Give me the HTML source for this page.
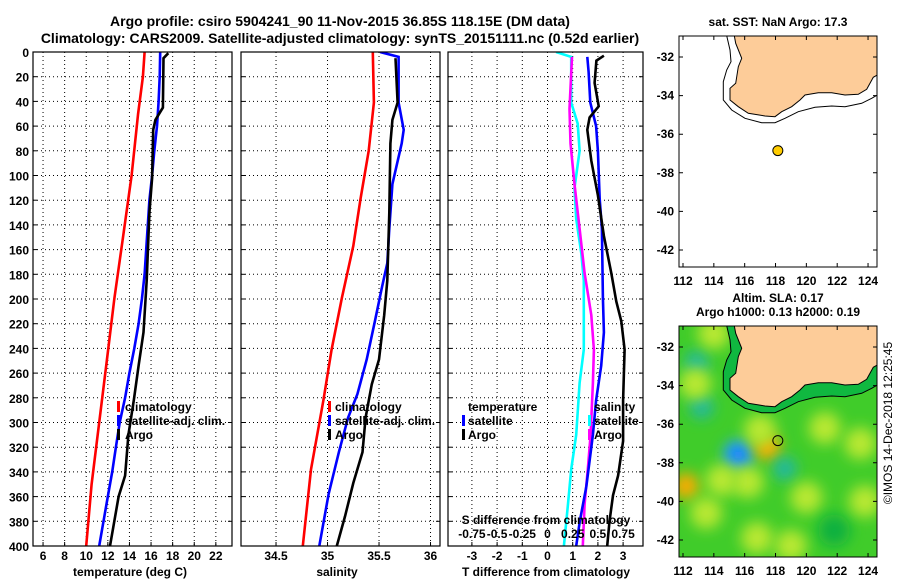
<!DOCTYPE html>
<html><head><meta charset="utf-8"><style>
html,body{margin:0;padding:0;background:#fff;}
svg{display:block;font-family:"Liberation Sans",Arial,sans-serif;font-weight:bold;}
</style></head><body>
<svg id="c" width="900" height="580" viewBox="0 0 900 580" xmlns="http://www.w3.org/2000/svg">
<defs>
<clipPath id="cp1"><rect x="33" y="52" width="199" height="494"/></clipPath>
<clipPath id="cp2"><rect x="241" y="52" width="199" height="494"/></clipPath>
<clipPath id="cp3"><rect x="448" y="52" width="195" height="494"/></clipPath>
<clipPath id="cpm1"><rect x="679" y="36" width="198" height="231"/></clipPath>
<clipPath id="cpm2"><rect x="679" y="326" width="198" height="231"/></clipPath>
<filter id="blur" x="-80%" y="-80%" width="260%" height="260%"><feGaussianBlur stdDeviation="7"/></filter>
</defs>
<text x="340" y="26" text-anchor="middle" font-size="14">Argo profile: csiro 5904241_90 11-Nov-2015 36.85S 118.15E (DM data)</text>
<text x="340" y="43" text-anchor="middle" font-size="14">Climatology: CARS2009. Satellite-adjusted climatology: synTS_20151111.nc (0.52d earlier)</text>
</svg>
<script>
// ---------- data ----------
const depthTicks = [0,20,40,60,80,100,120,140,160,180,200,220,240,260,280,300,320,340,360,380,400];
const tempTicks = [6,8,10,12,14,16,18,20,22];
const salTicks = [34.5,35,35.5,36];
const tDiffTicks = [-3,-2,-1,0,1,2,3];
const sDiffLabels = ["-0.75","-0.5","-0.25","0","0.25","0.5","0.75"];

const climDepth = [0,20,50,100,150,200,250,300,350,400];
const climTemp = [15.4,15.25,14.8,14.2,13.4,12.6,11.9,11.2,10.5,10.0];
const satDepth = [0,20,40,60,80,100,120,140,160,180,200,220,240,260,280,300,320,340,360,380,400];
const satTemp = [16.85,16.8,16.7,16.55,16.3,16.1,15.85,15.7,15.55,15.4,15.15,14.85,14.45,14.0,13.6,13.1,12.75,12.4,12.0,11.6,11.2];
const argoTDepth = [1,5,45,55,63,102,130,185,227,254,282,310,343,360,400];
const argoTemp = [17.6,17.15,17.1,16.4,16.2,16.1,15.85,15.6,15.3,14.85,14.4,13.9,13.6,13.0,12.2];

const climSDepth = [0,41,80,119,157,199,241,282,338,400];
const climSal = [35.44,35.45,35.4,35.32,35.25,35.14,35.04,34.96,34.84,34.76];
const satSDepth = [0,4,41,63,74,107,143,171,190,218,249,277,296,324,358,400];
const satSal = [35.51,35.69,35.69,35.74,35.72,35.63,35.6,35.58,35.53,35.46,35.38,35.29,35.2,35.11,35.01,34.92];
const argoSDepth = [5,41,55,74,130,185,213,249,269,296,324,349,376,400];
const argoSal = [35.66,35.68,35.63,35.61,35.6,35.58,35.55,35.5,35.43,35.37,35.34,35.25,35.17,35.09];

const dTSatDepth = [4,16,41,60,80,119,143,199,227,254,282,310,352,380,400];
const dTSat = [1.58,1.63,1.7,1.93,2.0,2.07,2.16,2.2,2.24,2.13,1.93,1.8,1.54,1.28,1.14];
const dTArgoDepth = [3,7,25,44,53,63,88,116,149,179,202,218,241,282,315,343,359,380,400];
const dTArgo = [2.24,1.94,1.87,2.03,1.67,1.58,1.74,2.0,2.24,2.53,2.73,2.93,3.06,3.0,3.0,2.8,2.6,2.46,2.37];
const dSSatDepth = [0,4,41,58,80,110,135,163,185,241,268,310,338,366,400];
const dSSat = [0.085,0.235,0.235,0.30,0.318,0.268,0.285,0.335,0.36,0.36,0.318,0.285,0.235,0.203,0.163];
const dSArgoDepth = [4,46,74,107,143,179,213,241,268,310,338,366,400];
const dSArgo = [0.243,0.218,0.228,0.268,0.318,0.368,0.435,0.46,0.45,0.428,0.40,0.368,0.35];

const mapLonTicks = [112,114,116,118,120,122,124];
const mapLatTicks = [-32,-34,-36,-38,-40,-42];
const argoLon = 118.15, argoLat = -36.85;
// SLA anomaly blobs: lon, lat, category
const blobLon = [112.9,113.2,115.6,117.5,118.6,121.2,112.2,116.8,123.5,114.0,120.0,116.2,121.8,113.5,119.0,114.5,117.0,112.8,123.8];
const blobLat = [-32.8,-35.1,-37.6,-37.2,-38.3,-36.2,-39.2,-41.9,-37.0,-31.3,-39.8,-39.0,-41.5,-40.6,-42.3,-38.9,-36.3,-33.9,-40.0];
const blobKind = ["cyan","cyan","blue","orange","cyan","yellow","orange","yellow","yellow","yellow","yellow","yellow","dark","yellow","yellow","yellow","yellow","yellow","yellow"];

// ---------- helpers ----------
const NS="http://www.w3.org/2000/svg";
const svg=document.getElementById('c');
function mk(tag,attrs,parent){const e=document.createElementNS(NS,tag);for(const k in attrs)e.setAttribute(k,attrs[k]);(parent||svg).appendChild(e);return e;}
const Y0=52,Y1=546;
const yD=d=>Y0+(d/400)*(Y1-Y0);
const x1=t=>33+(t-5.07)*10.8;
const x2=s=>241+(s-34.16)*103;
const x3=t=>547.5+t*25.2;
const x3s=s=>x3(s*4);

function panel(x,w,clip,name){
  const g=mk('g',{});
  
  
  depthTicks.forEach((d,i)=>{ if(i>0&&i<depthTicks.length-1){
    const l=mk('line',{x1:x,x2:x+w,y1:yD(d),y2:yD(d),stroke:'#000','stroke-width':1,'stroke-dasharray':'1 3'},g);
    
    
  }
    const t1=mk('line',{x1:x,x2:x+4,y1:yD(d),y2:yD(d),stroke:'#000'},g);
    
    
    const t2=mk('line',{x1:x+w-4,x2:x+w,y1:yD(d),y2:yD(d),stroke:'#000'},g);
    
    
  });
  return g;
}
function frame(x,w,name){
  const r=mk('rect',{x:x,y:Y0,width:w,height:Y1-Y0,fill:'none',stroke:'#000','stroke-width':1.2});
  
  
}
function xgrid(g,vals,fx){
  vals.forEach(v=>{
    const l=mk('line',{x1:fx(v),x2:fx(v),y1:Y0,y2:Y1,stroke:'#000','stroke-width':1,'stroke-dasharray':'1 3'},g);
    
    
    const tk=mk('line',{x1:fx(v),x2:fx(v),y1:Y1-4,y2:Y1,stroke:'#000'},g);
    
    
  });
}
function series(ds,vs,fx,color,clip,name,w){
  const pts=ds.map((d,i)=>fx(vs[i]).toFixed(1)+','+yD(d).toFixed(1)).join(' ');
  const p=mk('polyline',{points:pts,fill:'none',stroke:color,'stroke-width':w||2.6,'stroke-linejoin':'miter','clip-path':'url(#'+clip+')'});
  
  
}
function txt(x,y,s,size,anchor,name,parent){
  const t=mk('text',{x:x,y:y,'font-size':size,'text-anchor':anchor||'start'},parent);
  t.textContent=s;
  
  
  return t;
}
function legBar(x,y,color,name){
  const r=mk('rect',{x:x,y:y-10,width:3,height:11,fill:color});
  
  
}

// ---------- panel 1 ----------
const g1=panel(33,199,'cp1','temperature-panel');
xgrid(g1,tempTicks,x1);
series(climDepth,climTemp,x1,'#ff0000','cp1','climatology-temp-line');
series(satDepth,satTemp,x1,'#0000ff','cp1','satellite-temp-line');
series(argoTDepth,argoTemp,x1,'#000000','cp1','argo-temp-line');
frame(33,199,'temperature-axes-frame');
depthTicks.forEach(d=>txt(29,yD(d)+5,String(d),12,'end','depth-tick-label'));
tempTicks.forEach(v=>txt(x1(v),560,String(v),12,'middle','temp-tick-label'));
txt(130,576,'temperature (deg C)',12,'middle','temperature-axis-title');
legBar(117,411,'#ff0000','legend-climatology-swatch');txt(125,411,'climatology',12,'start','legend-climatology');
legBar(117,425,'#0000ff','legend-satellite-swatch');txt(125,425,'satellite-adj. clim.',12,'start','legend-satellite-adj');
legBar(117,439,'#000000','legend-argo-swatch');txt(125,439,'Argo',12,'start','legend-argo');

// ---------- panel 2 ----------
const g2=panel(241,199,'cp2','salinity-panel');
xgrid(g2,salTicks,x2);
series(climSDepth,climSal,x2,'#ff0000','cp2','climatology-sal-line');
series(satSDepth,satSal,x2,'#0000ff','cp2','satellite-sal-line');
series(argoSDepth,argoSal,x2,'#000000','cp2','argo-sal-line');
frame(241,199,'salinity-axes-frame');
salTicks.forEach(v=>txt(x2(v),560,String(v),12,'middle','sal-tick-label'));
txt(337,576,'salinity',12,'middle','salinity-axis-title');
legBar(328,411,'#ff0000','legend-climatology-swatch-2');txt(335,411,'climatology',12,'start','legend-climatology-2');
legBar(328,425,'#0000ff','legend-satellite-swatch-2');txt(335,425,'satellite-adj. clim.',12,'start','legend-satellite-adj-2');
legBar(328,439,'#000000','legend-argo-swatch-2');txt(335,439,'Argo',12,'start','legend-argo-2');

// ---------- panel 3 ----------
const g3=panel(448,195,'cp3','difference-panel');
xgrid(g3,tDiffTicks,x3);
series(dSSatDepth,dSSat,x3s,'#00ffff','cp3','sal-diff-satellite-line');
series(dSArgoDepth,dSArgo,x3s,'#ff00ff','cp3','sal-diff-argo-line');
series(dTSatDepth,dTSat,x3,'#0000ff','cp3','temp-diff-satellite-line');
series(dTArgoDepth,dTArgo,x3,'#000000','cp3','temp-diff-argo-line');
frame(448,195,'difference-axes-frame');
tDiffTicks.forEach(v=>txt(x3(v),560,String(v),12,'middle','tdiff-tick-label'));
txt(546,576,'T difference from climatology',12,'middle','tdiff-axis-title');
txt(546,524,'S difference from climatology',12,'middle','sdiff-axis-title');
sDiffLabels.forEach((s,i)=>txt(x3s(parseFloat(s)),538,s,12,'middle','sdiff-tick-label'));
txt(468,411,'temperature',12,'start','legend-temperature-heading');
legBar(462,425,'#0000ff','legend-tdiff-satellite-swatch');txt(468,425,'satellite',12,'start','legend-tdiff-satellite');
legBar(462,439,'#000000','legend-tdiff-argo-swatch');txt(468,439,'Argo',12,'start','legend-tdiff-argo');
txt(594,411,'salinity',12,'start','legend-salinity-heading');
legBar(588,425,'#00ffff','legend-sdiff-satellite-swatch');txt(594,425,'satellite',12,'start','legend-sdiff-satellite');
legBar(588,439,'#ff00ff','legend-sdiff-argo-swatch');txt(594,439,'Argo',12,'start','legend-sdiff-argo');

// ---------- maps ----------
const MX0=679,MX1=877;
const mLon=lo=>683+(lo-112)*15.42;
const mLat=(la,top)=>top+21+(-32-la)*19.3;
const coastZ=[[268,107],[272,130],[290,175],[280,200],[272,250],[255,265],[255,300],[280,320],[310,340],[360,348],[390,350],[410,335],[440,320],[465,300],[480,285],[520,278],[560,278],[600,285],[640,283],[665,268],[685,232],[697,225],[697,107]];
const shelfZ=[[245,107],[255,150],[258,185],[245,210],[235,245],[235,300],[260,330],[300,355],[350,368],[390,368],[420,355],[460,335],[510,322],[560,318],[600,320],[650,310],[680,295],[697,285]];
const zp=(p,top)=>(645+p[0]/3).toFixed(1)+','+(top-36+p[1]/3).toFixed(1);
const blobColor={cyan:'#20b8a0',blue:'#2aa0ff',orange:'#ffaa00',yellow:'#b8e830',dark:'#10b040'};
const blobR={cyan:12,blue:15,orange:13,yellow:16,dark:16};

function mapAxes(top,name,withHeat){
  const clip=top<100?'cpm1':'cpm2';
  const g=mk('g',{'clip-path':'url(#'+clip+')'});
  
  
  const bg=mk('rect',{x:MX0,y:top,width:MX1-MX0,height:231,fill:withHeat?'#40cc2a':'#fff'},g);
  
  
  if(withHeat){
    blobLon.forEach((lo,i)=>{
      const k=blobKind[i];
      const c=mk('circle',{cx:mLon(lo),cy:mLat(blobLat[i],top),r:blobR[k],fill:blobColor[k],filter:'url(#blur)'},g);
      
      
      if(k==='blue'){
        const c2=mk('circle',{cx:mLon(lo),cy:mLat(blobLat[i],top),r:7,fill:'#1070ff',filter:'url(#blur)'},g);
        
        
      }
    });
    const sh=mk('polygon',{points:shelfZ.map(p=>zp(p,top)).concat([zp([697,107],top)]).join(' '),fill:'#10b840'},g);
    
    
  }
  const sl=mk('polyline',{points:shelfZ.map(p=>zp(p,top)).join(' '),fill:'none',stroke:'#000','stroke-width':1},g);
  
  
  const land=mk('polygon',{points:coastZ.map(p=>zp(p,top)).join(' '),fill:'#fdcc99',stroke:'#000','stroke-width':1},g);
  
  
  const dot=mk('circle',{cx:mLon(argoLon),cy:mLat(argoLat,top),r:5,fill:withHeat?'none':'#ffcc00',stroke:'#000','stroke-width':1},g);
  
  
  const fr=mk('rect',{x:MX0,y:top,width:MX1-MX0,height:231,fill:'none',stroke:'#000','stroke-width':1});
  
  
  mapLonTicks.forEach(lo=>{
    const t=mk('line',{x1:mLon(lo),x2:mLon(lo),y1:top,y2:top+231,stroke:'#000','stroke-dasharray':'4 223'});
    
    
    txt(mLon(lo),top+249,String(lo),12,'middle','lon-tick-label');
  });
  mapLatTicks.forEach(la=>{
    const t=mk('line',{x1:MX0,x2:MX1,y1:mLat(la,top),y2:mLat(la,top),stroke:'#000','stroke-dasharray':'4 190'});
    
    
    txt(674,mLat(la,top)+4,String(la),12,'end','lat-tick-label');
  });
}
mapAxes(36,'sst-location-map',false);
mapAxes(326,'sla-map',true);
txt(778,26,'sat. SST: NaN Argo: 17.3',12,'middle','sst-map-title');
txt(778,302,'Altim. SLA: 0.17',12,'middle','sla-map-title');
txt(778,316,'Argo h1000: 0.13 h2000: 0.19',12,'middle','sla-map-subtitle');
const cr=txt(0,0,'©IMOS 14-Dec-2018 12:25:45',12,'middle','imos-credit');
cr.setAttribute('font-weight','normal');
cr.setAttribute('transform','translate(892,423) rotate(-90)');
</script>
</body></html>
